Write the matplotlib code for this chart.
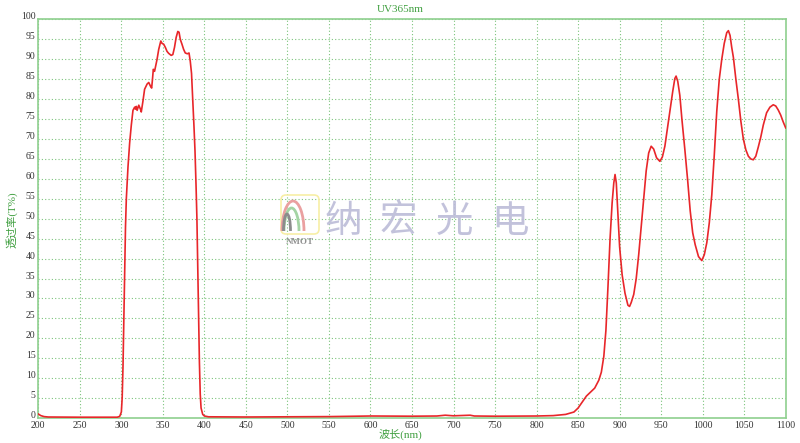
import matplotlib
matplotlib.use("Agg")
import matplotlib.pyplot as plt
from matplotlib.patches import FancyBboxPatch, Arc
from matplotlib.transforms import ScaledTranslation

title = "UV365nm"
xlabel = "波长(nm)"
ylabel = "透过率(T%)"
watermark = "纳宏光电"

wavelength = [200, 203, 207, 212, 250, 295, 298, 300, 301, 302, 303, 304, 305, 306, 308, 310, 312, 314,
              316, 317, 318, 319, 321, 323, 324, 326, 328, 331, 333, 335, 336.5, 337.5, 338.5, 340, 341.5,
              343, 345, 347.5, 349, 351, 353, 355, 357, 360, 362, 364, 366, 368, 369.5, 371, 373, 375, 377,
              379.5, 381.5, 383, 384.5, 386, 387.5, 388.7, 390, 391, 392, 393, 394, 395, 396, 398, 400,
              405, 450, 500, 550, 600, 650, 680, 690, 700, 720, 725, 750, 800, 820, 835, 845, 850, 855,
              860, 865, 870, 875, 878, 881, 883.5, 886, 888.5, 891, 893, 894.5, 896, 898, 900, 903, 906.5,
              910, 912, 914, 917, 920, 923, 926, 929, 932, 935, 938, 941, 944.5, 948.5, 951.5, 954.5,
              957.5, 961, 964, 966.5, 968, 970, 972.5, 975, 978.5, 982, 985, 988, 991, 995, 999, 1002,
              1005, 1008, 1011, 1014, 1017, 1020, 1023, 1026, 1029, 1031, 1033, 1035, 1037, 1040, 1043,
              1046, 1049, 1052, 1055, 1058, 1061, 1064, 1067, 1070, 1073, 1077, 1081, 1085, 1088, 1091,
              1094, 1097, 1100]
transmittance = [1.0, 0.6, 0.35, 0.25, 0.2, 0.2, 0.4, 1.5, 5, 13, 25, 38, 48, 55, 63, 69, 73.5, 77.2,
                 78, 77.5, 78.2, 77.2, 78.5, 77.5, 76.8, 79.5, 82.5, 83.8, 84.2, 83.3, 82.8, 85, 87.5, 87,
                 88.5, 90, 92.5, 94.6, 94, 93.8, 93, 92, 91.5, 91, 91.2, 93, 95.5, 97, 96.8, 95, 93.8,
                 92.5, 91.6, 91.4, 91.6, 89.5, 86.5, 80, 73, 67, 58, 50, 38, 25, 14, 6, 2.5, 0.9, 0.5,
                 0.3, 0.25, 0.3, 0.35, 0.5, 0.45, 0.5, 0.7, 0.55, 0.7, 0.5, 0.45, 0.5, 0.6, 0.9, 1.5,
                 2.5, 4, 5.5, 6.5, 7.5, 9.5, 11.5, 15.5, 22, 33, 45, 54, 59, 61.1, 59, 51, 43, 36, 31.3,
                 28.3, 28, 29, 31, 35, 41, 48, 55, 62, 66.5, 68.2, 67.5, 65.3, 64.4, 65.5, 68.2, 72.5,
                 77.5, 82, 85.2, 85.8, 84.5, 81, 75, 67.5, 59.5, 52, 46.5, 43.5, 40.5, 39.5, 41, 44, 49,
                 56, 66, 77, 85, 90, 94, 96.7, 97.2, 96, 93, 90.5, 85, 80, 74.5, 70, 67.3, 65.7, 65,
                 64.8, 65.7, 68, 70.5, 73.5, 76.6, 78, 78.6, 78.3, 77.3, 76, 74.3, 72.8]

x_ticks = list(range(200, 1101, 50))
y_ticks = list(range(0, 101, 5))

serif_cjk = ["Liberation Serif", "Noto Sans CJK SC"]
green = "#3f9f3f"
grid_green = "#7cc47c"
spine_green = "#8fd08f"

fig = plt.figure(figsize=(8, 4.43), dpi=100)
ax = fig.add_axes([38.3 / 800, 1 - 418 / 443, (785.7 - 38.3) / 800, (418 - 19.5) / 443])

ax.plot(wavelength, transmittance, color="#e8262a", lw=1.2, zorder=3)
ax.set_xlim(200, 1100)
ax.set_ylim(0, 100)
ax.set_xticks(x_ticks)
ax.set_yticks(y_ticks)
ax.grid(True, color=grid_green, linestyle=(0, (1, 2)), lw=0.8)
ax.tick_params(length=0, labelsize=7, colors="#333333", pad=2)
for lbl in ax.get_xticklabels() + ax.get_yticklabels():
    lbl.set_family(serif_cjk)
for lbl in ax.get_yticklabels():
    lbl.set_transform(lbl.get_transform() + ScaledTranslation(0, 3.5 / 100, fig.dpi_scale_trans))
for s in ax.spines.values():
    s.set_color(spine_green)
    s.set_linewidth(1.2)

fig.text(400 / 800, 1 - 10 / 443, title, color=green, fontsize=8, family=serif_cjk, ha="center", va="center")
fig.text(400 / 800, 1 - 434 / 443, xlabel, color=green, fontsize=8, family=serif_cjk, ha="center", va="center")
fig.text(12 / 800, 1 - 220 / 443, ylabel, color=green, fontsize=8, family=serif_cjk, ha="center", va="center",
         rotation=90)

# watermark overlay in pixel coords
ov = fig.add_axes([0, 0, 1, 1], zorder=5)
ov.set_xlim(0, 800)
ov.set_ylim(443, 0)
ov.axis("off")
ov.patch.set_alpha(0)
for ch, cx in zip(watermark, [343, 398, 455, 510]):
    ov.text(cx, 221, ch, fontsize=27, color="#bcbcd8", ha="center", va="center",
            family=["Noto Sans CJK SC"], fontweight="light", alpha=0.9)
ov.add_patch(FancyBboxPatch((281, 195), 38, 39, boxstyle="round,pad=0,rounding_size=5",
                            fill=False, ec="#f7efa6", lw=1.2))
for cx, w, h, c in [(293, 22, 60, "#eaa0a0"), (291.5, 15, 46, "#a4d4a4"), (287, 7, 34, "#8c8c8c")]:
    ov.add_patch(Arc((cx, 231), w, h, theta1=180, theta2=360, color=c, lw=2.0))
ov.text(299.5, 241.5, "NMOT", fontsize=6.5, color="#909090", ha="center", va="center",
        family="Liberation Serif", fontweight="bold")

fig.savefig("out.png", dpi=100)
